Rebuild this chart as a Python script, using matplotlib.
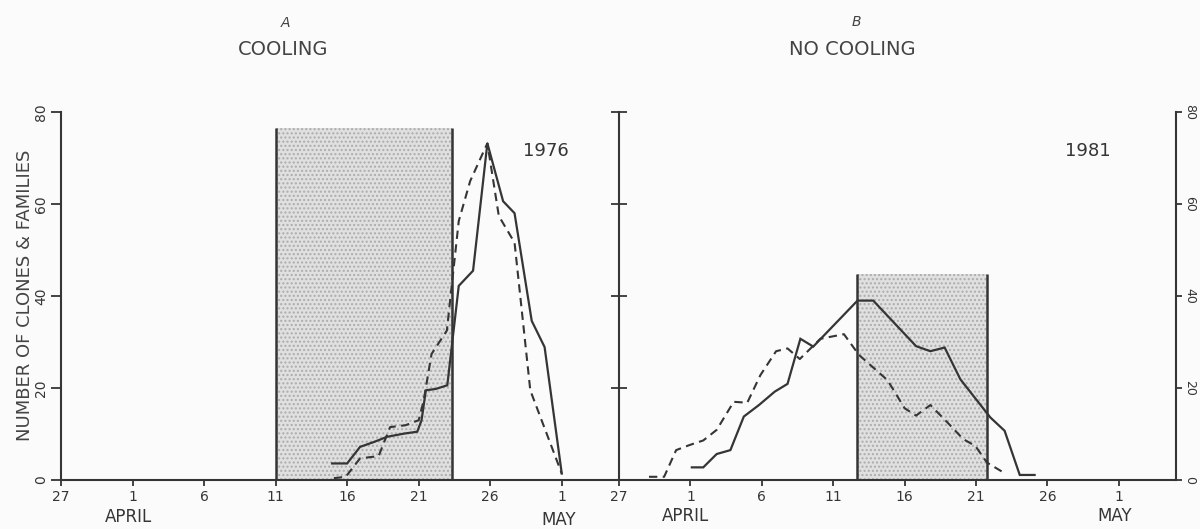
import matplotlib
matplotlib.use("Agg")
import matplotlib.pyplot as plt

# ---------------- data (x = days after 27 March) ----------------
tick_days = [0, 5, 10, 15, 20, 25, 30, 35]
tick_labels = ["27", "1", "6", "11", "16", "21", "26", "1"]
y_ticks = [0, 20, 40, 60, 80]

# Panel A: 1976, cooling
a_solid_x = [18.95, 20.0, 20.9, 21.9, 22.8, 24.0, 24.9, 25.2, 25.5, 26.2, 27.0,
             27.8, 28.8, 29.8, 30.9, 31.7, 32.9, 33.8, 35.0]
a_solid_y = [3.6, 3.6, 7.2, 8.3, 9.4, 10.1, 10.5, 13.0, 19.5, 19.8, 20.6,
             42.2, 45.5, 73.2, 60.6, 58.0, 34.6, 28.9, 1.4]
a_dash_x = [19.07, 19.9, 20.9, 22.2, 23.0, 24.07, 25.0, 25.35, 25.9, 26.97,
            27.8, 28.6, 29.8, 30.6, 31.7, 32.8, 35.0]
a_dash_y = [0.4, 0.7, 4.7, 5.2, 11.5, 11.9, 13.0, 17.3, 27.4, 32.5,
            56.3, 65.0, 73.2, 57.4, 51.6, 19.5, 1.4]
a_cool = [15.0, 27.3]      # cooling period (start, end)
a_cool_top = 76.5

# Panel B: 1981, no cooling
b_solid_x = [5.1, 5.9, 6.84, 7.8, 8.74, 9.8, 10.9, 11.8, 12.7, 13.6, 16.7, 17.8,
             20.8, 21.8, 22.8, 23.9, 26.0, 27.0, 28.06, 29.1]
b_solid_y = [2.75, 2.75, 5.65, 6.5, 13.8, 16.3, 19.2, 20.9, 30.7, 29.0, 39.0, 39.0,
             29.1, 28.0, 28.8, 21.9, 13.6, 10.7, 1.1, 1.1]
b_dash_x = [2.1, 3.16, 4.0, 4.94, 5.9, 6.84, 8.03, 8.98, 9.9, 11.0, 11.8, 12.66,
            14.1, 15.75, 16.8, 18.8, 20.0, 20.8, 21.8, 23.0, 24.1, 24.95, 25.76, 27.1]
b_dash_y = [0.7, 0.7, 6.5, 7.6, 8.6, 10.9, 17.0, 16.8, 22.8, 28.0, 28.6, 26.3,
            30.7, 31.7, 27.2, 21.7, 15.6, 14.0, 16.3, 12.5, 8.9, 7.4, 3.8, 1.3]
b_cool = [16.64, 25.8]
b_cool_top = 44.8

INK = "#353535"
BG = "#fbfbfb"

fig = plt.figure(figsize=(12, 5.29), dpi=100)
fig.patch.set_facecolor(BG)

axL = fig.add_axes([0.05083, 0.0926, 0.465, 0.6957])
axR = fig.add_axes([0.51583, 0.0926, 0.46417, 0.6957])
axR2 = axR.twinx()

for ax in (axL, axR, axR2):
    ax.set_facecolor("none")
    ax.set_xlim(0, 39)
    ax.set_ylim(0, 80)
    for s in ax.spines.values():
        s.set_color(INK)
        s.set_linewidth(1.5)
    ax.spines["top"].set_visible(False)


def draw_panel(ax, cool, top, sx, sy, dx, dy):
    ax.fill_between(cool, 0, top, facecolor="#e0e0e0", edgecolor="#acacac",
                    hatch="....", linewidth=0, zorder=1)
    ax.vlines(cool, 0, top, color=INK, lw=1.8, zorder=2)
    ax.plot(sx, sy, color=INK, lw=1.6, zorder=3, solid_joinstyle="miter")
    ax.plot(dx, dy, color=INK, lw=1.5, ls=(0, (4, 2.6)), zorder=3)
    ax.set_xticks(tick_days)
    ax.set_xticklabels(tick_labels)
    ax.tick_params(axis="x", direction="out", length=4, width=1.3, color=INK,
                   labelsize=10, labelcolor=INK, pad=3)


# ---- left panel ----
draw_panel(axL, a_cool, a_cool_top, a_solid_x, a_solid_y, a_dash_x, a_dash_y)
axL.spines["right"].set_visible(False)
axL.set_yticks(y_ticks)
axL.set_yticklabels([str(v) for v in y_ticks], rotation=90, va="center")
axL.tick_params(axis="y", direction="out", length=7, width=1.3, color=INK,
                labelsize=10, labelcolor=INK, pad=2)
axL.text(33.9, 71.5, "1976", fontsize=13, color=INK, ha="center", va="center")
axL.text(4.69, -0.1, "APRIL", transform=axL.get_xaxis_transform(),
         fontsize=12, color=INK, ha="center", va="center")
axL.text(34.8, -0.11, "MAY", transform=axL.get_xaxis_transform(),
         fontsize=12, color=INK, ha="center", va="center")

# ---- right panel ----
draw_panel(axR, b_cool, b_cool_top, b_solid_x, b_solid_y, b_dash_x, b_dash_y)
axR.spines["right"].set_visible(False)
axR.set_yticks(y_ticks[1:])
axR.tick_params(axis="y", direction="inout", length=11, width=1.3, color=INK,
                labelleft=False)
axR2.spines["left"].set_visible(False)
axR2.spines["bottom"].set_visible(False)
axR2.set_yticks(y_ticks)
axR2.set_yticklabels([str(v) for v in y_ticks], rotation=-90, va="center")
axR2.tick_params(axis="y", direction="out", length=4, width=1.3, color=INK,
                 labelsize=9, labelcolor=INK, pad=1)
axR.text(32.8, 71.5, "1981", fontsize=13, color=INK, ha="center", va="center")
axR.text(4.69, -0.097, "APRIL", transform=axR.get_xaxis_transform(),
         fontsize=12, color=INK, ha="center", va="center")
axR.text(34.7, -0.097, "MAY", transform=axR.get_xaxis_transform(),
         fontsize=12, color=INK, ha="center", va="center")

# ---- titles & axis label ----
fig.text(0.2375, 0.9565, "A", fontsize=10, style="italic", color="#444",
         ha="center", va="center")
fig.text(0.236, 0.907, "COOLING", fontsize=14, color="#444",
         ha="center", va="center")
fig.text(0.714, 0.958, "B", fontsize=10, style="italic", color="#444",
         ha="center", va="center")
fig.text(0.71, 0.907, "NO COOLING", fontsize=14, color="#444",
         ha="center", va="center")
fig.text(0.0208, 0.4423, "NUMBER OF CLONES & FAMILIES", fontsize=13,
         color="#444", rotation=90, ha="center", va="center")

fig.savefig("out.png", dpi=100, facecolor=BG)
